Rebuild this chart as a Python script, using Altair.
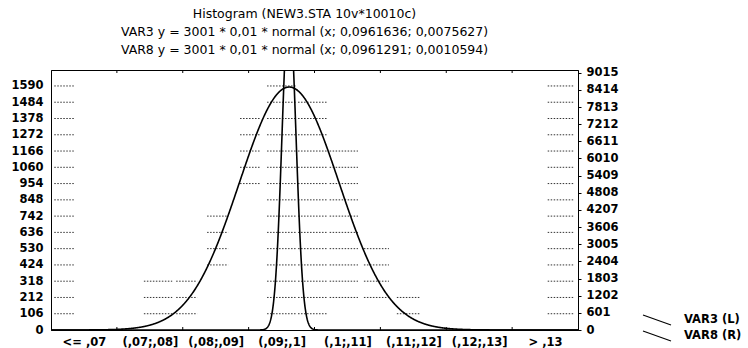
import numpy as np
import pandas as pd
import altair as alt

# Fitted normal curves, as printed in the chart heading
N_CASES = 3001
BIN_WIDTH = 0.01
VAR3_MEAN, VAR3_SD = 0.0961636, 0.0075627
VAR8_MEAN, VAR8_SD = 0.0961291, 0.0010594

# Class intervals of the histogram
categories = ["<= ,07", "(,07;,08]", "(,08;,09]", "(,09;,1]",
              "(,1;,11]", "(,11;,12]", "(,12;,13]", "> ,13"]
category_centers = [0.065, 0.075, 0.085, 0.095, 0.105, 0.115, 0.125, 0.135]
bin_edges = [0.07, 0.08, 0.09, 0.10, 0.11, 0.12, 0.13]

# Axis tick values: VAR3 on the left, VAR8 on the right
left_ticks = [0, 106, 212, 318, 424, 530, 636, 742, 848, 954,
              1060, 1166, 1272, 1378, 1484, 1590]
right_ticks = [0, 601, 1202, 1803, 2404, 3005, 3606, 4207, 4808,
               5409, 6010, 6611, 7212, 7813, 8414, 9015]

# Hatched histogram columns (x extent and the span of hatch lines, VAR3 units)
hatch_x_from = [0.0741, 0.0790, 0.0837, 0.0887, 0.0928, 0.0975, 0.1023, 0.1075, 0.1125]
hatch_x_to = [0.0784, 0.0822, 0.0869, 0.0917, 0.0973, 0.1019, 0.1066, 0.1113, 0.1160]
hatch_low = [106, 106, 424, 954, 106, 106, 212, 212, 106]
hatch_high = [318, 318, 742, 1378, 1590, 1484, 1166, 530, 212]

# Short grid stubs next to both vertical axes
stub_left = (0.0605, 0.0636)
stub_right = (0.1354, 0.1395)

FONT = "DejaVu Sans"

# ---- tables -------------------------------------------------------------
rows = []
for x0, x1, lo, hi in zip(hatch_x_from, hatch_x_to, hatch_low, hatch_high):
    for lev in left_ticks:
        if lo <= lev <= hi:
            rows.append({"x0": x0, "x1": x1, "level": lev})
for lev in left_ticks[1:]:
    rows.append({"x0": stub_left[0], "x1": stub_left[1], "level": lev})
    rows.append({"x0": stub_right[0], "x1": stub_right[1], "level": lev})
seg_df = pd.DataFrame(rows)


def normal_pdf(x, m, s):
    return np.exp(-0.5 * ((x - m) / s) ** 2) / (s * np.sqrt(2 * np.pi))


xs = np.linspace(0.06, 0.14, 1601)
var3_df = pd.DataFrame({"x": xs,
                        "y": N_CASES * BIN_WIDTH * normal_pdf(xs, VAR3_MEAN, VAR3_SD),
                        "series": "VAR3 (L)"})
var8_df = pd.DataFrame({"x": xs,
                        "y": N_CASES * BIN_WIDTH * normal_pdf(xs, VAR8_MEAN, VAR8_SD),
                        "series": "VAR8 (R)"})
edge_df = pd.DataFrame({"edge": bin_edges})

# ---- scales and axes ----------------------------------------------------
x_scale = alt.Scale(domain=[0.06, 0.14], nice=False, zero=False)
y_left = alt.Scale(domain=[0, 1694], nice=False)
y_right = alt.Scale(domain=[0, 9110], nice=False)

label_expr = ("[" + ",".join("'" + c + "'" for c in categories) + "]"
              "[round((datum.value - 0.065) * 100)]")

AX = dict(labelFont=FONT, labelFontWeight="bold", labelFontSize=11.5,
          labelColor="black", domainColor="black", tickColor="black")

x_axis = alt.Axis(values=category_centers, labelExpr=label_expr, title=None,
                  grid=False, ticks=False, labelPadding=6, labelFlush=False,
                  labelOverlap=False, labelBound=False, **AX)
left_axis = alt.Axis(values=left_ticks, format="d", title=None, grid=False,
                     ticks=False, labelPadding=8, labelOverlap=False, **AX)
right_axis = alt.Axis(values=right_ticks, format="d", title=None, grid=False,
                      orient="right", tickSize=3, labelPadding=5,
                      labelOverlap=False, **AX)

color_scale = alt.Scale(domain=["VAR3 (L)", "VAR8 (R)"], range=["black", "black"])
legend = alt.Legend(title=None, orient="none", legendX=598, legendY=242,
                    symbolType="M-2,-0.7L2,0.7", symbolSize=196,
                    symbolStrokeWidth=1.1, symbolStrokeColor="black",
                    labelFont=FONT, labelFontWeight="bold", labelFontSize=11.5,
                    labelColor="black", labelOffset=19, rowPadding=0, padding=0)

# ---- layers -------------------------------------------------------------
hatch = alt.Chart(seg_df).mark_rule(strokeDash=[1.5, 1.5], color="#333",
                                     strokeWidth=1).encode(
    x=alt.X("x0:Q", scale=x_scale, axis=x_axis),
    x2="x1:Q",
    y=alt.Y("level:Q", scale=y_left, axis=left_axis),
)

top_ticks = alt.Chart(edge_df).mark_rule(color="black", strokeWidth=1).encode(
    x=alt.X("edge:Q", scale=x_scale, axis=x_axis),
    y=alt.value(0), y2=alt.value(3),
)
bottom_ticks = alt.Chart(edge_df).mark_rule(color="black", strokeWidth=1).encode(
    x=alt.X("edge:Q", scale=x_scale, axis=x_axis),
    y=alt.value(260), y2=alt.value(257),
)

curve3 = alt.Chart(var3_df).mark_line(strokeWidth=1.6, clip=True).encode(
    x=alt.X("x:Q", scale=x_scale, axis=x_axis),
    y=alt.Y("y:Q", scale=y_left, axis=left_axis),
    color=alt.Color("series:N", scale=color_scale, legend=legend),
)

curve8 = alt.Chart(var8_df).mark_line(strokeWidth=1.6, clip=True).encode(
    x=alt.X("x:Q", scale=x_scale, axis=x_axis),
    y=alt.Y("y:Q", scale=y_right, axis=right_axis),
    color=alt.Color("series:N", scale=color_scale, legend=legend),
)

left_group = alt.layer(hatch, top_ticks, bottom_ticks, curve3)

chart = alt.layer(left_group, curve8).resolve_scale(y="independent").properties(
    width=527,
    height=260,
    padding={"left": 51, "top": 70, "right": 170, "bottom": 18},
    autosize=alt.AutoSizeParams(type="none"),
    background="white",
    title=alt.TitleParams(
        text=["Histogram (NEW3.STA 10v*10010c)",
              "VAR3 y = 3001 * 0,01 * normal (x; 0,0961636; 0,0075627)",
              "VAR8 y = 3001 * 0,01 * normal (x; 0,0961291; 0,0010594)"],
        font=FONT, fontSize=12.5, fontWeight="normal", lineHeight=18,
        anchor="middle", dx=-10, offset=10, color="black",
    ),
).configure_view(
    stroke="black", strokeWidth=1
)

chart.save("out.html", embed_options={"renderer": "svg", "actions": False})
